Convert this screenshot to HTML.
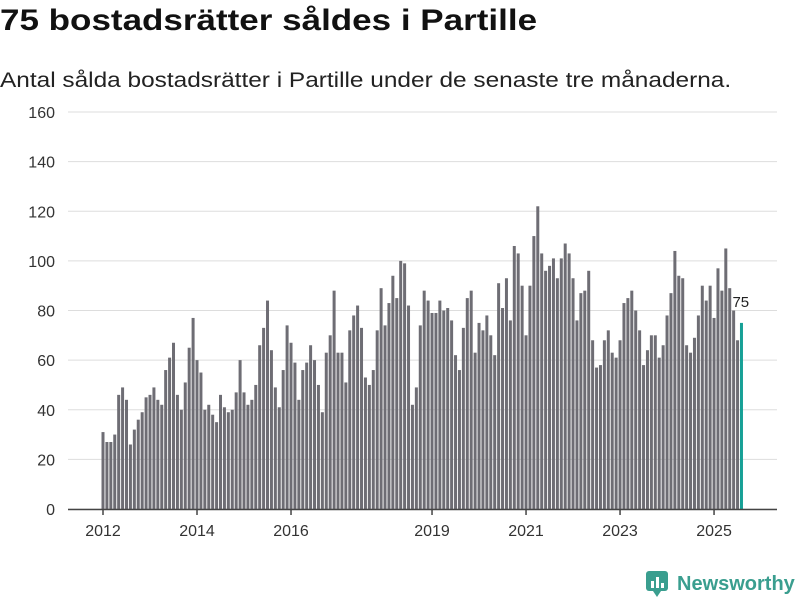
<!DOCTYPE html>
<html><head><meta charset="utf-8"><style>
body{margin:0;width:800px;height:600px;background:#fff;font-family:"Liberation Sans",sans-serif;overflow:hidden;position:relative}
h1{position:absolute;left:0;top:4px;margin:0;font-size:30px;font-weight:bold;color:#111;transform:scaleX(1.167);transform-origin:0 0;white-space:nowrap}
.sub{position:absolute;left:0;top:69px;font-size:21px;color:#222;transform:scaleX(1.162);transform-origin:0 0;white-space:nowrap}
</style></head><body>
<h1>75 bostadsrätter såldes i Partille</h1>
<div class="sub">Antal sålda bostadsrätter i Partille under de senaste tre månaderna.</div>
<svg id="chart" width="800" height="600" style="position:absolute;left:0;top:0"></svg>
<div style="position:absolute;left:645px;top:570px;display:flex;align-items:center">
<svg width="24" height="28"><rect x="1" y="1" width="22" height="20" rx="3" fill="#3a9e8f"/><polygon points="8,21 12,27 16,21" fill="#3a9e8f"/><rect x="6" y="11" width="3" height="7" fill="#fff"/><rect x="11" y="7" width="3" height="11" fill="#fff"/><rect x="16" y="13" width="3" height="5" fill="#fff"/></svg>
<span style="font-size:20px;font-weight:bold;color:#3a9e8f;margin-left:8px">Newsworthy</span></div>
<script>
const values=[31,27,27,30,46,49,44,26,32,36,
39,45,46,49,44,42,56,61,67,46,
40,51,65,77,60,55,40,42,38,35,
46,41,39,40,47,60,47,42,44,50,
66,73,84,64,49,41,56,74,67,59,
44,56,59,66,60,50,39,63,70,88,
63,63,51,72,78,82,73,53,50,56,
72,89,74,83,94,85,100,99,82,42,
49,74,88,84,79,79,84,80,81,76,
62,56,73,85,88,63,75,72,78,70,
62,91,81,93,76,106,103,90,70,90,
110,122,103,96,98,101,93,101,107,103,
93,76,87,88,96,68,57,58,68,72,
63,61,68,83,85,88,80,72,58,64,
70,70,61,66,78,87,104,94,93,66,
63,69,78,90,84,90,77,97,88,105,
89,80,68,75];
const yTicks=[0,20,40,60,80,100,120,140,160];
const xTickYears=[2012,2014,2016,2019,2021,2023,2025];
const startYear=2012;
const svg=document.getElementById('chart');
const NS='http://www.w3.org/2000/svg';
const y=v=>509-v*(397/160);
const x=i=>103+i*3.917;
function mk(t,a){const e=document.createElementNS(NS,t);for(const k in a)e.setAttribute(k,a[k]);svg.appendChild(e);return e;}
yTicks.forEach(t=>{
 const g=mk('line',{x1:68,x2:777,y1:y(t),y2:y(t),stroke:'#ddd','stroke-width':1});
 
 
 const l=mk('text',{x:55,y:y(t)+6,'text-anchor':'end','font-size':16,fill:'#333','font-family':'Liberation Sans, sans-serif'});
 l.textContent=t;
 
 
});
values.forEach((v,i)=>{
 const last=i===values.length-1;
 const r=mk('rect',{x:x(i)-1.5,y:y(v),width:3,height:y(0)-y(v),fill:last?'#16a096':'#6e6d74'});
 
 
});
const ax=mk('line',{x1:68,x2:777,y1:509.5,y2:509.5,stroke:'#444','stroke-width':1.5});


xTickYears.forEach(yr=>{
 const px=x((yr-startYear)*12);
 const t=mk('line',{x1:px,x2:px,y1:509,y2:515,stroke:'#444','stroke-width':1.5});
 
 
 const l=mk('text',{x:px,y:536,'text-anchor':'middle','font-size':16,fill:'#333','font-family':'Liberation Sans, sans-serif'});
 l.textContent=yr;
 
 
});
const li=values.length-1;
const lab=mk('text',{x:x(li)-9,y:y(values[li])-16,'font-size':15,fill:'#222','font-family':'Liberation Sans, sans-serif'});
lab.textContent=values[li];


</script>
</body></html>
